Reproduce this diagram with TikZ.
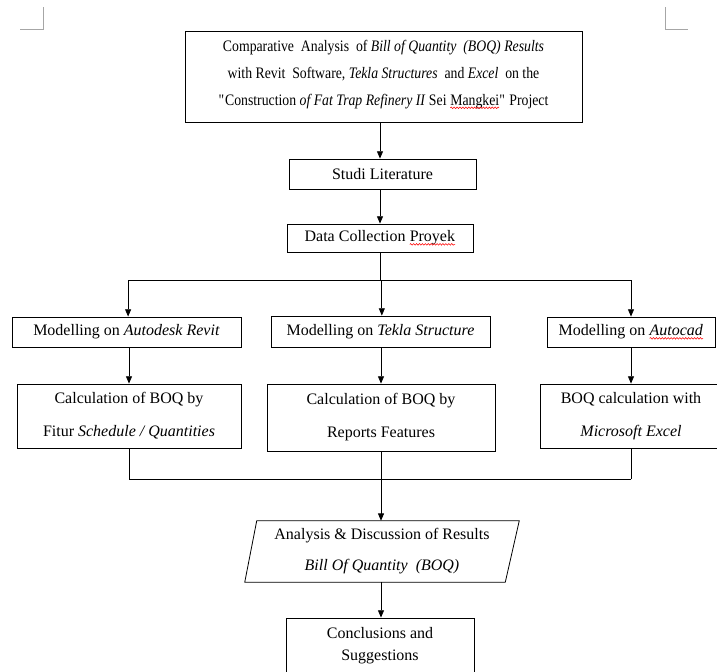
\documentclass[tikz,border=0pt]{standalone}
\usepackage{fontspec}
\setmainfont{Liberation Serif}
\newfontfamily\condensedserif[FakeStretch=0.86]{Liberation Serif}
\usetikzlibrary{arrows.meta,decorations.pathmorphing}
\newcommand\redwave[1]{\tikz[baseline=(w.base)]{\node[inner sep=0pt, outer sep=0pt,
    minimum width=0pt, minimum height=0pt, draw=none, text width=, align=none] (w) {#1};
  \draw[red, line width=0.4pt, decorate, decoration={snake, amplitude=0.6pt, segment length=2.2pt}]
  ([yshift=-2pt]w.base west) -- ([yshift=-2pt]w.base east);}}
\begin{document}
\begin{tikzpicture}[x=0.75pt,y=-0.75pt,
  box/.style={draw, line width=0.6pt, inner sep=0pt, align=center},
  sz/.style 2 args={minimum width=0.75pt*#1, minimum height=0.75pt*#2},
  f20/.style={font=\condensedserif\fontsize{12}{20.25}\selectfont},
  f12/.style={font=\fontsize{12}{14}\selectfont},
  f25/.style={font=\fontsize{12}{24.75}\selectfont},
  f23/.style={font=\fontsize{12}{23.25}\selectfont},
  f16/.style={font=\fontsize{12}{16.5}\selectfont},
  arr/.style={-{Triangle[length=5.5pt,width=4.5pt]}, line width=0.6pt},
  ln/.style={line width=0.6pt},
  cornermark/.style={draw=black!35, line width=0.6pt}]
\useasboundingbox (0,0) rectangle (717,671);
\clip (0,0) rectangle (717,671);

% page corner marks
\draw[cornermark] (43,7) -- (43,29) -- (20,29);
\draw[cornermark] (665,7) -- (665,29) -- (688,29);

% boxes
\node[box, f20, sz={397}{91}] (top) at (383.5,76.5)
  {Comparative\ \ Analysis\ \ of \textit{Bill of Quantity\ \ (BOQ) Results}\\
   with Revit\ \ Software, \textit{Tekla Structures}\ \ and \textit{Excel}\ \ on the\\
   \textquotedbl Construction \textit{of Fat Trap Refinery II} Sei \redwave{Mangkei}\textquotedbl\ Project\\[-14.25pt]\mbox{}};
\node[box, f12, sz={187}{30}] (studi) at (382.5,174) {Studi Literature};
\node[box, f12, sz={186}{28}] (data) at (380,238) {Data Collection \redwave{Proyek}};

\node[box, f12, sz={229}{30}] (revit) at (126.5,332) {Modelling on \textit{Autodesk Revit}};
\node[box, f12, sz={219}{31}] (tekla) at (380.5,331.5) {Modelling on \textit{Tekla Structure}};
\node[box, f12, sz={168}{30}] (autocad) at (631,332) {Modelling on \redwave{\textit{Autocad}}};

\node[box, f25, sz={224}{64}] (calcr) at (129,416) {Calculation of BOQ by\\ Fitur \textit{Schedule / Quantities}};
\node[box, f25, sz={228}{67}] (calct) at (381,417.5) {Calculation of BOQ by\\ Reports Features};
\node[box, f25, sz={182}{64}] (calca) at (631,416) {BOQ calculation with\\ \textit{Microsoft Excel}};

\node[inner sep=0pt, align=center, f23, sz={274}{61}] (para) at (382,551.5)
  {Analysis \& Discussion of Results\\ \textit{Bill Of Quantity\ \ (BOQ)}};
\draw[ln] ([xshift=9pt]para.north west) -- (para.north east)
  -- ([xshift=-10.5pt]para.south east) -- (para.south west) -- cycle;

\node[box, f16, sz={188}{55}] (concl) at (380,645.5) {Conclusions and\\ Suggestions};

% junctions
\coordinate (j1) at (381,280);
\coordinate (j2) at (381,479);

% connectors
\draw[arr] (data.north |- top.south) -- (data.north |- studi.north);
\draw[arr] (data.north |- studi.south) -- (data.north);
\draw[ln] (data.south) -- (data.south |- j1);
\draw[ln] ([xshift=1.2pt]revit.north |- j1) -- (autocad.north |- j1);
\draw[arr] ([xshift=1.2pt]revit.north |- j1) -- ([xshift=1.2pt]revit.north);
\draw[arr] ([xshift=1pt]tekla.north |- j1) -- ([xshift=1pt]tekla.north);
\draw[arr] (autocad.north |- j1) -- (autocad.north);

\draw[arr] (calcr.north |- revit.south) -- (calcr.north);
\draw[arr] (calct.north |- tekla.south) -- (calct.north);
\draw[arr] (autocad.south) -- (autocad.south |- calca.north);

\draw[ln] (calcr.south) -- (calcr.south |- j2);
\draw[ln] (autocad.south |- calca.south) -- (autocad.south |- j2);
\draw[ln] (calcr.south |- j2) -- (autocad.south |- j2);
\draw[arr] (calct.south) -- (calct.south |- para.north);
\draw[arr] (calct.south |- para.south) -- (calct.south |- concl.north);
\end{tikzpicture}
\end{document}
